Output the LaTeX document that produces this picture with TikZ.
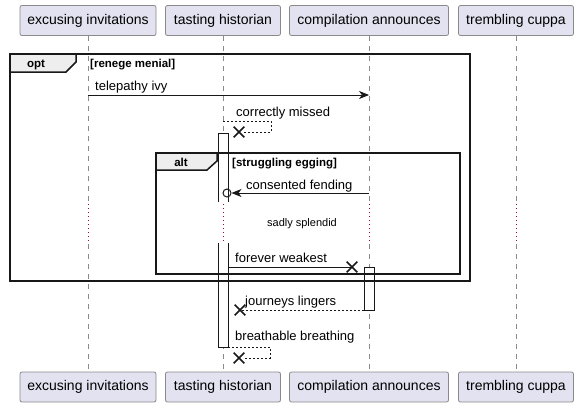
\documentclass[tikz,border=0pt]{standalone}
\usepackage{fontspec}
\setmainfont{Liberation Sans}
\usetikzlibrary{arrows.meta,positioning,shapes.misc}
\definecolor{SeqInk}{HTML}{181818}
\definecolor{SeqFill}{HTML}{E2E2F0}
\definecolor{SeqTab}{HTML}{EEEEEE}
\definecolor{SeqRule}{HTML}{8A8A8A}
\definecolor{SeqDiv}{HTML}{A80036}
\tikzset{
  seq/participant/.style={
    draw=SeqRule, line width=.8pt, fill=SeqFill, rounded corners=2pt,
    minimum height=30pt, inner sep=0pt,
    font=\fontsize{14}{16}\selectfont
  },
  seq/life/.style={draw=SeqRule, line width=.7pt, dash pattern=on 5pt off 5pt},
  seq/divline/.style={draw=SeqDiv, line width=.8pt, dash pattern=on 1pt off 3pt},
  seq/act/.style={draw=SeqInk, line width=.8pt},
  seq/msg/.style={
    -{Stealth[length=10pt,width=8pt,inset=3pt]}, line width=.8pt, draw=SeqInk
  },
  seq/plain/.style={line width=.8pt, draw=SeqInk},
  seq/reply/.style={line width=.8pt, draw=SeqInk, dash pattern=on 2pt off 2pt},
  seq/cross/.style={
    cross out, draw=SeqInk, line width=1.6pt, minimum size=9pt, inner sep=0pt
  },
  seq/label/.style={anchor=base west, inner sep=0pt, font=\fontsize{13}{15}\selectfont},
  seq/frame/.style={draw=SeqInk, line width=1.5pt},
  seq/tab/.style={draw=SeqInk, fill=SeqTab, line width=1.5pt, line join=miter},
  seq/keyword/.style={anchor=base, inner sep=0pt, font=\bfseries\fontsize{11.5}{13}\selectfont},
  seq/guard/.style={anchor=base west, inner sep=0pt, font=\bfseries\fontsize{11.5}{13}\selectfont}
}
\begin{document}
\begin{tikzpicture}[x=1pt,y=-1pt]
  \useasboundingbox (0,0) rectangle (579,407);
  % participants and lifelines
  \foreach \n/\x/\w/\t in {exc/88/136/excusing invitations,
      tast/223/115/tasting historian,
      comp/369/159/compilation announces,
      trem/516/115/trembling cuppa}{
    \node[seq/participant,minimum width=\w pt] (\n-t) at (\x,20.5) {\t};
    \node[seq/participant,minimum width=\w pt] (\n-b) at (\x,387) {\t};
    \coordinate (\n-d1) at (\x,204);
    \coordinate (\n-d2) at (\x,244);
    \draw[seq/life] (\n-t.south) -- (\n-d1);
    \draw[seq/divline] (\n-d1) -- (\n-d2);
    \draw[seq/life] (\n-d2) -- (\n-b.north);
  }
  % activations
  \fill[white] (218,133) rectangle (228,202);
  \fill[white] (218,243) rectangle (228,347);
  \draw[seq/act] (218,202) -- (218,133) -- (228,133) -- (228,202);
  \draw[seq/act] (218,243) -- (218,347) -- (228,347) -- (228,243);
  \draw[seq/act,fill=white] (364,267) rectangle (374,310);
  % opt frame
  \draw[seq/frame] (10,54) rectangle (470,281);
  \filldraw[seq/tab] (10,54) -- (76,54) -- (76,62) -- (66,72) -- (10,72) -- cycle;
  \node[seq/keyword] (optkey) at (36,67) {opt};
  \node[seq/guard] (optguard) at (90,67) {[renege menial]};
  % alt frame
  \draw[seq/frame] (156,153) rectangle (460,274);
  \filldraw[seq/tab] (156,153) -- (217,153) -- (217,161) -- (207,170) -- (156,170) -- cycle;
  \node[seq/keyword] (altkey) at (181,166) {alt};
  \node[seq/guard] (altguard) at (232,166) {[struggling egging]};
  % messages
  \coordinate (tel-a) at (88,95);
  \coordinate (tel-b) at (369,95);
  \draw[seq/msg] (tel-a) -- (tel-b);
  \node[seq/label] (tel-l) at (95,90) {telepathy ivy};

  \coordinate (cor-a) at (223,121);
  \node[seq/cross] (cor-x) at (239,132) {};
  \draw[seq/reply] (cor-a) -- ++(48,0) |- (cor-x);
  \node[seq/label] (cor-l) at (236,116) {correctly missed};

  \coordinate (con-a) at (369,193);
  \node[circle,draw=SeqInk,line width=1pt,minimum size=8pt,inner sep=0pt] (con-o) at (227,193) {};
  \draw[seq/msg] (con-a) -- (con-o);
  \node[seq/label] (con-l) at (246,189) {consented fending};

  \node[font=\fontsize{11}{13}\selectfont] (div) at (302,224) {sadly splendid};

  \coordinate (for-a) at (228,267);
  \node[seq/cross] (for-x) at (352,267) {};
  \draw[seq/plain] (for-a) -- (for-x.center);
  \node[seq/label] (for-l) at (235,262) {forever weakest};

  \coordinate (jou-a) at (364,310);
  \node[seq/cross] (jou-x) at (240,310) {};
  \draw[seq/reply] (jou-a) -- (jou-x.center);
  \node[seq/label] (jou-l) at (245,305) {journeys lingers};

  \coordinate (bre-a) at (228,347);
  \node[seq/cross] (bre-x) at (239,358) {};
  \draw[seq/reply] (bre-a) -- ++(42,0) |- (bre-x);
  \node[seq/label] (bre-l) at (235,340) {breathable breathing};
\end{tikzpicture}
\end{document}
